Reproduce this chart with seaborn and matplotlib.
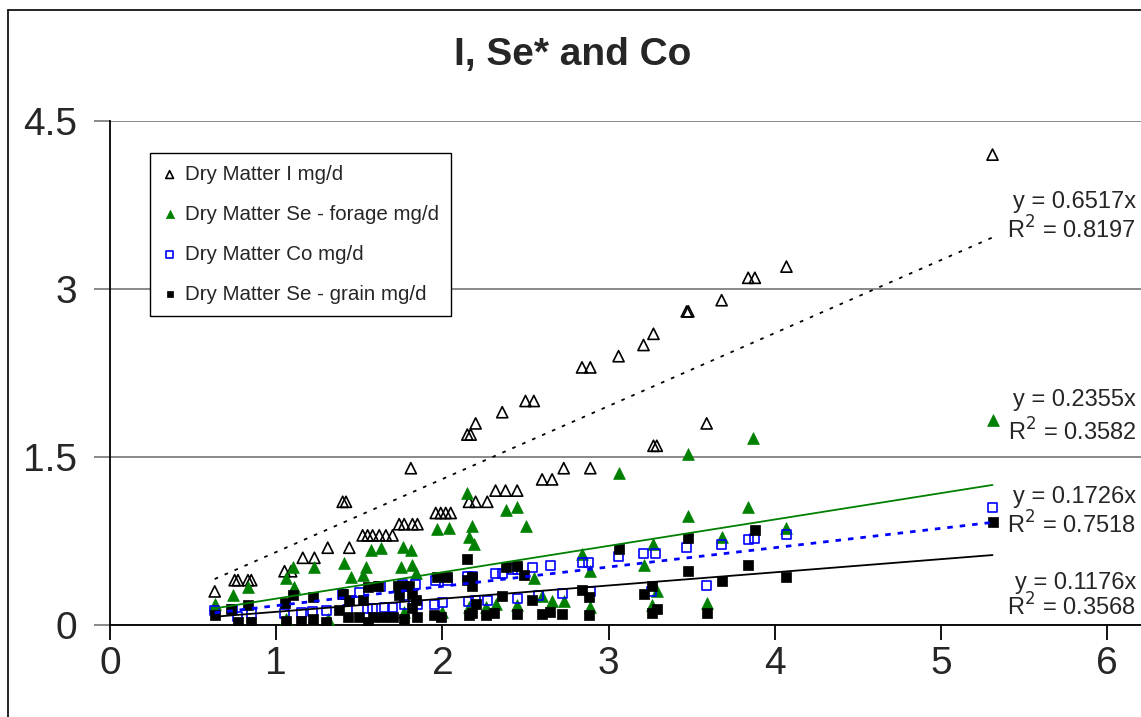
import matplotlib
matplotlib.use("Agg")
import matplotlib.pyplot as plt
import seaborn as sns
import numpy as np
from matplotlib.lines import Line2D

# Dry Matter I mg/d
i_x = [0.63, 0.75, 0.77, 0.83, 0.85, 1.05, 1.09, 1.16, 1.23, 1.31, 1.40, 1.42, 1.44, 1.52, 1.55,
       1.58, 1.62, 1.66, 1.70, 1.74, 1.77, 1.82, 1.85, 1.81, 1.96, 1.99, 2.02, 2.05, 2.15, 2.17,
       2.20, 2.16, 2.20, 2.27, 2.32, 2.38, 2.45, 2.36, 2.50, 2.55, 2.60, 2.66, 2.73, 2.89, 2.84,
       2.89, 3.06, 3.21, 3.27, 3.27, 3.29, 3.47, 3.48, 3.59, 3.68, 3.84, 3.88, 4.07, 5.31]
i_y = [0.30, 0.40, 0.40, 0.40, 0.40, 0.48, 0.48, 0.60, 0.60, 0.69, 1.10, 1.10, 0.69, 0.80, 0.80,
       0.80, 0.80, 0.80, 0.80, 0.90, 0.90, 0.90, 0.90, 1.40, 1.00, 1.00, 1.00, 1.00, 1.70, 1.70,
       1.80, 1.10, 1.10, 1.10, 1.20, 1.20, 1.20, 1.90, 2.00, 2.00, 1.30, 1.30, 1.40, 1.40, 2.30,
       2.30, 2.40, 2.50, 2.60, 1.60, 1.60, 2.80, 2.80, 1.80, 2.90, 3.10, 3.10, 3.20, 4.20]

# Dry Matter Se - forage mg/d
sef_x = [0.63, 0.74, 0.77, 0.83, 1.06, 1.10, 1.11, 1.23, 1.41, 1.45, 1.52, 1.54, 1.57, 1.63, 1.76,
         1.81, 1.75, 1.82, 1.84, 1.97, 2.04, 2.15, 2.18, 2.16, 2.19, 2.38, 2.45, 2.50, 2.55, 2.60,
         2.66, 2.73, 2.84, 2.89, 2.89, 3.06, 3.21, 3.27, 3.29, 3.26, 3.48, 3.48, 3.59, 3.68, 3.84,
         3.87, 4.07, 5.31, 1.77, 2.00, 2.16, 2.26, 2.32, 2.45, 1.06, 1.31]
sef_y = [0.19, 0.27, 0.02, 0.34, 0.42, 0.52, 0.34, 0.52, 0.55, 0.43, 0.45, 0.52, 0.67, 0.69, 0.70,
         0.67, 0.52, 0.54, 0.46, 0.86, 0.87, 1.18, 0.88, 0.79, 0.72, 1.03, 1.05, 0.88, 0.42, 0.26,
         0.21, 0.21, 0.63, 0.48, 0.16, 1.36, 0.54, 0.72, 0.30, 0.18, 1.53, 0.97, 0.20, 0.79, 1.05,
         1.67, 0.87, 1.83, 0.12, 0.12, 0.16, 0.16, 0.19, 0.18, 0.05, 0.05]

# Dry Matter Co mg/d
co_x = [0.63, 0.74, 0.77, 0.85, 1.05, 1.15, 1.22, 1.30, 1.40, 1.43, 1.50, 1.55, 1.58, 1.63, 1.65,
        1.70, 1.76, 1.84, 1.77, 1.85, 1.96, 2.03, 1.95, 2.00, 2.15, 2.18, 2.16, 2.20, 2.27, 2.32,
        2.36, 2.42, 2.45, 2.45, 2.54, 2.58, 2.65, 2.72, 2.84, 2.88, 2.89, 3.06, 3.21, 3.28, 3.26,
        3.47, 3.59, 3.68, 3.84, 3.88, 4.07, 5.31]
co_y = [0.13, 0.14, 0.08, 0.10, 0.10, 0.11, 0.12, 0.13, 0.27, 0.14, 0.29, 0.15, 0.15, 0.34, 0.16,
        0.16, 0.36, 0.36, 0.18, 0.18, 0.40, 0.40, 0.18, 0.20, 0.43, 0.43, 0.21, 0.22, 0.22, 0.46,
        0.46, 0.50, 0.50, 0.24, 0.51, 0.26, 0.53, 0.28, 0.56, 0.56, 0.30, 0.61, 0.64, 0.64, 0.30,
        0.69, 0.35, 0.72, 0.76, 0.77, 0.81, 1.05]

# Dry Matter Se - grain mg/d
seg_x = [0.63, 0.73, 0.77, 0.83, 0.85, 1.06, 1.10, 1.05, 1.15, 1.22, 1.22, 1.30, 1.38, 1.40, 1.43,
         1.44, 1.50, 1.52, 1.55, 1.55, 1.61, 1.58, 1.64, 1.70, 1.73, 1.76, 1.80, 1.74, 1.82, 1.84,
         1.82, 1.77, 1.85, 1.95, 1.99, 1.97, 2.03, 2.15, 2.15, 2.18, 2.18, 2.20, 2.16, 2.18, 2.26,
         2.31, 2.36, 2.38, 2.45, 2.49, 2.45, 2.54, 2.60, 2.65, 2.72, 2.84, 2.88, 2.88, 3.06, 3.21,
         3.26, 3.26, 3.29, 3.48, 3.48, 3.59, 3.68, 3.84, 3.88, 4.07, 5.31]
seg_y = [0.09, 0.14, 0.03, 0.18, 0.03, 0.04, 0.27, 0.20, 0.04, 0.05, 0.25, 0.03, 0.13, 0.28, 0.07,
         0.22, 0.07, 0.22, 0.34, 0.03, 0.35, 0.07, 0.07, 0.07, 0.35, 0.35, 0.35, 0.27, 0.28, 0.22,
         0.15, 0.05, 0.07, 0.09, 0.07, 0.43, 0.43, 0.59, 0.40, 0.43, 0.35, 0.19, 0.09, 0.11, 0.09,
         0.11, 0.26, 0.52, 0.53, 0.45, 0.10, 0.22, 0.10, 0.12, 0.10, 0.31, 0.25, 0.09, 0.68, 0.28,
         0.35, 0.11, 0.14, 0.78, 0.48, 0.11, 0.39, 0.54, 0.85, 0.43, 0.92]

labels = ['Dry Matter I mg/d', 'Dry Matter Se - forage mg/d',
          'Dry Matter Co mg/d', 'Dry Matter Se - grain mg/d']
slopes = [0.6517, 0.2355, 0.1726, 0.1176]
r2 = [0.8197, 0.3582, 0.7518, 0.3568]
x_ticks = [0, 1, 2, 3, 4, 5, 6]
y_ticks = [0, 1.5, 3, 4.5]

sns.set_theme(style="white")
plt.rcParams['font.family'] = ['Liberation Sans', 'DejaVu Sans']

W, H = 1141, 717
fig = plt.figure(figsize=(W / 100, H / 100), dpi=100)
ax = fig.add_axes([110 / W, 1 - 625 / H, 1 - 110 / W, (625 - 121) / H])

green = '#008000'
blue = '#0000FF'

# points
sns.scatterplot(x=i_x, y=i_y, ax=ax, marker='^', s=64, facecolor='none', edgecolor='black',
                linewidth=1.2, label=labels[0], zorder=3)
sns.scatterplot(x=sef_x, y=sef_y, ax=ax, marker='^', s=72, facecolor=green, edgecolor=green,
                linewidth=0.5, label=labels[1], zorder=3)
sns.scatterplot(x=co_x, y=co_y, ax=ax, marker='s', s=42, facecolor='none', edgecolor=blue,
                linewidth=1.2, label=labels[2], zorder=3)
sns.scatterplot(x=seg_x, y=seg_y, ax=ax, marker='s', s=50, facecolor='black', edgecolor='black',
                linewidth=0.5, label=labels[3], zorder=3)

# trendlines through origin, over each series' x range
line_styles = [('black', (0, (2, 4)), 1.3), (green, '-', 1.3), (blue, (0, (2, 2.5)), 2.0),
               ('black', '-', 1.3)]
xs_all = [i_x, sef_x, co_x, seg_x]
for xs, k, (c, ls, lw) in zip(xs_all, slopes, line_styles):
    xx = np.array([min(xs), max(xs)])
    ax.plot(xx, k * xx, color=c, linestyle=ls, linewidth=lw, zorder=4)

# equation labels
eq_y = [(3.777, 3.527), (2.009, 1.723), (1.143, 0.893), (0.375, 0.161)]
x_eq = (1136 - 110) / 166.2
for k, r, (y1, y2) in zip(slopes, r2, eq_y):
    ax.text(x_eq, y1, f'y = {k:.4f}x', ha='right', va='center', fontsize=17, clip_on=False)
    ax.text(x_eq, y2, f'R$^2$ = {r:.4f}', ha='right', va='center', fontsize=17, clip_on=False)

ax.set_xlim(0, (W - 110) / 166.2)
ax.set_ylim(0, 4.5)
ax.set_xticks(x_ticks)
ax.set_yticks(y_ticks)
ax.set_xticklabels([str(t) for t in x_ticks])
ax.set_yticklabels(['0', '1.5', '3', '4.5'])
ax.yaxis.grid(True, color='#808080', linewidth=1.3)
ax.xaxis.grid(False)
ax.set_axisbelow(True)
for s in ['top', 'right']:
    ax.spines[s].set_visible(False)
for s in ['left', 'bottom']:
    ax.spines[s].set_color('black')
    ax.spines[s].set_linewidth(1.3)
ax.tick_params(axis='y', direction='out', length=11.5, width=1.3, color='#808080',
               labelsize=28, pad=12, left=True)
ax.tick_params(axis='x', direction='out', length=11, width=1.3, color='black',
               labelsize=28, pad=4, bottom=True)

leg = ax.legend(loc='upper left', bbox_to_anchor=((150 - 110) / 1031, (625 - 153) / 504),
                borderaxespad=0, fontsize=14.8, frameon=True, fancybox=False,
                edgecolor='black', framealpha=1, labelspacing=1.02, borderpad=0.58,
                handlelength=0.75, handletextpad=0.37, markerscale=0.7)
leg.get_frame().set_linewidth(1.0)
leg.set_zorder(5)

fig.text(573 / W, 1 - 55 / H, 'I, Se* and Co', ha='center', va='center',
         fontsize=28, fontweight='bold')

# outer chart border
fig.add_artist(Line2D([8 / W, 8 / W], [0, 1 - 10 / H], transform=fig.transFigure,
                      color='black', linewidth=1.2))
fig.add_artist(Line2D([8 / W, 1], [1 - 10 / H, 1 - 10 / H], transform=fig.transFigure,
                      color='black', linewidth=1.2))

fig.savefig('out.png', dpi=100)
